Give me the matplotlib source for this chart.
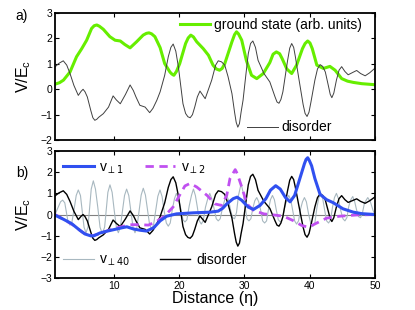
import numpy as np
import matplotlib
matplotlib.use("Agg")
import matplotlib.pyplot as plt

plt.rcParams["font.family"] = ["Liberation Sans", "DejaVu Sans"]
plt.rcParams["mathtext.fontset"] = "dejavusans"

# disorder potential (same in both panels)
dis_x = [1.0, 1.6, 2.27, 2.8, 3.3, 3.9, 4.57, 5.0, 5.3, 5.6, 5.95, 6.5, 6.8,
         7.1, 7.4, 7.7, 8.4, 9.2, 9.9, 10.4, 11.0, 11.8, 12.5, 13.0, 13.4,
         14.0, 14.8, 15.5, 16.0, 16.6, 17.1, 17.8, 18.35, 18.75, 19.1, 19.5,
         19.9, 20.6, 21.0, 21.35, 21.7, 22.05, 22.4, 22.8, 23.2, 24.0, 25.0,
         25.6, 26.0, 26.5, 27.0, 27.5, 28.1, 28.5, 28.75, 29.0, 29.25, 29.5,
         29.8, 30.2, 30.6, 30.95, 31.3, 31.7, 32.1, 33.0, 33.9, 34.7, 35.0,
         35.3, 35.6, 35.9, 36.6, 36.95, 37.25, 37.55, 37.8, 38.3, 39.0, 39.3,
         39.6, 39.9, 40.2, 40.8, 41.2, 41.6, 42.0, 42.4, 42.9, 43.15, 43.4,
         43.7, 44.1, 44.5, 44.9, 45.4, 45.9, 46.5, 47.2, 47.8, 48.5, 49.2, 50.0]
dis_y = [0.88, 1.02, 1.12, 0.95, 0.62, 0.15, -0.24, -0.08, 0.0, -0.1, -0.3,
         -0.85, -1.12, -1.22, -1.18, -1.1, -0.96, -0.7, -0.26, -0.42, -0.57,
         -0.2, 0.17, -0.05, -0.3, -0.63, -0.7, -0.92, -0.75, -0.43, -0.1,
         0.55, 1.28, 1.65, 1.78, 1.5, 0.88, -0.57, -0.95, -1.08, -1.12, -1.0,
         -0.7, -0.3, -0.07, -0.37, 0.36, 0.95, 1.12, 1.08, 0.95, 0.5, -0.17,
         -0.9, -1.3, -1.49, -1.35, -0.9, -0.43, 0.5, 1.4, 1.8, 1.9, 1.65,
         1.14, 0.62, 0.29, -0.3, -0.5, -0.55, -0.4, -0.1, 1.1, 1.62, 1.8, 1.65,
         1.3, 0.49, -0.6, -0.95, -1.07, -0.9, -0.5, 0.36, 0.8, 0.97, 0.9, 0.68,
         0.1, -0.2, -0.33, -0.15, 0.36, 0.75, 0.89, 0.7, 0.57, 0.65, 0.74,
         0.62, 0.53, 0.65, 0.83]

# ground state (arb. units)
gs_x = [1.0, 1.7, 2.3, 3.3, 4.3, 5.1, 5.85, 6.6, 7.0, 7.4, 7.8, 8.4, 9.4,
        10.2, 11.0, 11.7, 12.5, 13.5, 14.5, 15.0, 15.4, 15.8, 16.3, 17.1,
        17.8, 18.6, 18.9, 19.2, 19.6, 20.1, 21.0, 21.4, 21.8, 22.2, 22.7,
        23.7, 24.5, 25.2, 25.7, 26.2, 26.6, 27.0, 28.1, 28.5, 28.8, 29.1,
        29.6, 30.3, 31.1, 31.9, 32.9, 33.9, 34.4, 34.9, 35.4, 35.8, 36.5,
        37.25, 38.0, 38.9, 39.3, 39.7, 40.05, 40.4, 41.1, 42.1, 43.1, 43.9,
        44.9, 45.8, 46.7, 48.0, 50.0]
gs_y = [0.2, 0.26, 0.36, 0.68, 1.28, 1.6, 1.93, 2.39, 2.5, 2.53, 2.48, 2.36,
        2.07, 1.93, 1.9, 1.76, 1.63, 1.87, 2.13, 2.2, 2.22, 2.18, 2.07, 1.64,
        1.01, 0.68, 0.6, 0.55, 0.7, 1.01, 1.8, 2.02, 2.13, 2.06, 1.87, 1.6,
        1.34, 0.95, 0.8, 0.75, 0.82, 1.01, 1.87, 2.15, 2.26, 2.18, 1.93, 1.14,
        0.55, 0.42, 0.62, 1.05, 1.38, 1.47, 1.4, 1.2, 0.8, 0.62, 0.95, 1.6,
        1.8, 1.9, 1.82, 1.6, 0.95, 0.82, 0.9, 0.75, 0.42, 0.32, 0.27, 0.22,
        0.18]

# v_perp1
v1_x = [1.0, 2.27, 3.55, 4.83, 5.6, 6.4, 6.9, 7.9, 8.9, 10.2, 11.2, 12.0, 13.0,
        14.0, 15.0, 16.1, 17.1, 18.1, 19.6, 22.2, 24.7, 26.0, 26.7, 27.3, 28.3,
        28.9, 29.6, 30.6, 31.4, 32.4, 33.3, 34.0, 34.8, 35.5, 36.3, 37.0, 37.7,
        38.5, 39.2, 39.45, 39.7, 39.95, 40.3, 40.8, 41.6, 42.6, 43.6, 45.1,
        46.7, 48.0, 50.0]
v1_y = [-0.03, -0.22, -0.43, -0.75, -0.92, -1.0, -1.01, -0.87, -0.79, -0.7,
        -0.63, -0.58, -0.68, -0.74, -0.78, -0.63, -0.3, -0.08, 0.03, 0.08,
        0.11, 0.16, 0.3, 0.5, 0.75, 0.82, 0.67, 0.35, 0.24, 0.43, 0.75, 1.15,
        1.36, 1.2, 0.8, 0.6, 0.9, 1.7, 2.4, 2.6, 2.68, 2.55, 2.3, 1.7, 0.95,
        0.7, 0.56, 0.27, 0.11, 0.04, 0.0]

# v_perp2
v2_x = [1.0, 2.27, 3.8, 5.3, 6.36, 7.4, 9.2, 10.45, 12.5, 14.0, 15.3, 16.6,
        17.6, 18.1, 19.1, 20.1, 20.9, 21.7, 22.7, 24.3, 25.5, 26.5, 27.3, 27.8,
        28.6, 28.9, 29.6, 30.4, 31.4, 33.0, 34.5, 36.0, 37.5, 38.8, 39.8, 41.1,
        42.6, 44.6, 47.2, 50.0]
v2_y = [0.0, -0.22, -0.5, -0.86, -1.02, -0.95, -0.75, -0.63, -0.48, -0.48,
        -0.5, -0.32, -0.11, 0.03, 0.36, 0.92, 1.35, 1.47, 1.3, 0.9, 0.5, 0.43,
        0.9, 1.7, 2.12, 1.94, 1.3, 0.5, 0.19, 0.03, -0.02, -0.08, -0.29, -0.52,
        -0.6, -0.4, -0.17, -0.08, -0.02, 0.0]

# v_perp40
v40_x = [1.0, 1.5, 1.85, 2.17, 2.5, 2.75, 3.0, 3.3, 3.6, 3.95, 4.25, 4.57,
         4.9, 5.15, 5.45, 5.75, 6.05, 6.3, 6.55, 6.87, 7.2, 7.55, 7.9, 8.25,
         8.6, 8.85, 9.1, 9.42, 9.75, 10.05, 10.4, 10.7, 11.0, 11.35, 11.65,
         11.97, 12.3, 12.6, 12.95, 13.25, 13.55, 13.9, 14.2, 14.52, 14.85,
         15.15, 15.5, 15.8, 16.1, 16.45, 16.75, 17.08, 17.4, 17.7, 18.05,
         18.35, 18.65, 18.95, 19.3, 19.6, 19.9, 20.25, 20.6, 20.9, 21.2, 21.55,
         21.9, 22.2, 22.5, 22.8, 23.1, 23.4, 23.7, 24.05, 24.4, 24.7, 25.0,
         25.35, 25.7, 26.0, 26.3, 26.65, 27.0, 27.3, 27.6, 27.9, 28.2, 28.5,
         28.8, 29.1, 29.5, 29.85, 30.1, 30.4, 30.7, 31.0, 31.3, 31.6, 31.9,
         32.2, 32.5, 32.8, 33.1, 33.4, 33.7, 34.0, 34.3, 34.6, 34.9, 35.2,
         35.5, 35.8, 36.15, 36.5, 36.8, 37.1, 37.4, 37.7, 38.0, 38.3, 38.6,
         38.9, 39.2, 39.5, 39.85, 40.2, 40.5, 40.8, 41.1, 41.4, 41.7, 42.0,
         42.3, 42.6, 42.9, 43.2, 43.5, 43.8, 44.1, 44.4, 44.75, 45.1, 45.4,
         45.7, 46.0, 46.3, 46.6, 46.9, 47.2, 47.5, 47.8, 48.1, 48.4, 48.9,
         49.3, 49.7, 50.0]
v40_y = [0.0, 0.35, 0.6, 0.68, 0.55, 0.1, -0.35, -0.5, -0.35, 0.3, 0.9, 1.16,
         0.9, 0.2, -0.6, -0.86, -0.6, 0.3, 1.2, 1.59, 1.2, 0.35, -0.6, -0.9,
         -0.6, 0.2, 1.05, 1.4, 1.05, 0.25, -0.6, -0.86, -0.6, 0.2, 0.9, 1.2,
         0.9, 0.2, -0.6, -0.86, -0.6, 0.2, 0.92, 1.24, 0.92, 0.25, -0.5, -0.67,
         -0.48, 0.25, 0.86, 1.16, 0.85, 0.2, -0.4, -0.55, -0.4, 0.2, 0.75, 1.0,
         0.75, 0.3, -0.25, -0.35, -0.25, 0.4, 0.9, 1.2, 0.9, 0.35, -0.3, -0.45,
         -0.3, 0.35, 0.75, 1.0, 0.75, 0.3, -0.2, -0.3, -0.2, 0.3, 0.7, 0.9,
         0.65, 0.2, -0.15, -0.2, 0.1, 0.9, 1.45, 1.0, 0.4, -0.2, -0.3, -0.2,
         0.3, 0.65, 0.8, 0.6, 0.2, -0.3, -0.4, -0.3, 0.25, 0.7, 0.9, 0.7, 0.2,
         -0.25, -0.35, -0.25, 0.3, 0.7, 0.9, 0.7, 0.2, -0.3, -0.45, -0.3, 0.25,
         0.6, 0.8, 0.6, 0.0, -0.45, -0.55, -0.4, 0.3, 0.8, 1.0, 0.75, 0.2,
         -0.3, -0.4, -0.25, 0.35, 0.8, 1.0, 0.75, 0.2, -0.2, -0.3, -0.15, 0.4,
         0.7, 0.85, 0.6, 0.2, -0.1, -0.15, 0.1, 0.55, 0.8, 0.6, 0.2, 0.0]

green = "#66ee00"
blue = "#3050f0"
violet = "#c050f0"
lgray = "#a8b8c0"

fig = plt.figure(figsize=(4.15, 3.10), dpi=100)
ax1 = fig.add_axes([0.1325, 0.548, 0.771, 0.41])
ax2 = fig.add_axes([0.1325, 0.103, 0.771, 0.41])

# panel a
h_gs, = ax1.plot(gs_x, gs_y, color=green, lw=2.2)
h_da, = ax1.plot(dis_x, dis_y, color="#404040", lw=0.7)
ax1.set_xlim(1, 50)
ax1.set_ylim(-2, 3)
ax1.set_yticks([-2, -1, 0, 1, 2, 3])
ax1.set_xticks([10, 20, 30, 40, 50])
ax1.set_xticklabels([])
ax1.set_ylabel("V/E$_\\mathregular{c}$", fontsize=11.5, labelpad=5)

leg = ax1.legend([h_gs], ["ground state (arb. units)"], loc="center left",
                 bbox_to_anchor=(0.39, 0.905), frameon=False, fontsize=10,
                 handlelength=2.2, handletextpad=0.3, borderpad=0,
                 borderaxespad=0)
ax1.add_artist(leg)
ax1.legend([h_da], ["disorder"], loc="center left",
           bbox_to_anchor=(0.6, 0.1), frameon=False, fontsize=10,
           handlelength=2.2, handletextpad=0.3, borderpad=0, borderaxespad=0)

# panel b
ax2.axhline(0, color="#808080", lw=0.8)
h40, = ax2.plot(v40_x, v40_y, color=lgray, lw=0.8)
hd, = ax2.plot(dis_x, dis_y, color="black", lw=1.0)
h2, = ax2.plot(v2_x, v2_y, color=violet, lw=2.0, dashes=(3, 2))
h1, = ax2.plot(v1_x, v1_y, color=blue, lw=2.2)
ax2.set_xlim(1, 50)
ax2.set_ylim(-3, 3)
ax2.set_yticks([-3, -2, -1, 0, 1, 2, 3])
ax2.set_xticks([10, 20, 30, 40, 50])
ax2.set_xlabel("Distance (\u03b7)", fontsize=11.5, labelpad=0)
ax2.set_ylabel("V/E$_\\mathregular{c}$", fontsize=11.5, labelpad=5)

legkw = dict(loc="center left", frameon=False, fontsize=10, handlelength=2.2,
             handletextpad=0.4, borderpad=0, borderaxespad=0)
l1 = ax2.legend([h1], ["v$_{\\perp1}$"], bbox_to_anchor=(0.025, 0.866), **legkw)
ax2.add_artist(l1)
l2 = ax2.legend([h2], ["v$_{\\perp2}$"], bbox_to_anchor=(0.28, 0.866), **legkw)
ax2.add_artist(l2)
l3 = ax2.legend([h40], ["v$_{\\perp40}$"], bbox_to_anchor=(0.025, 0.14), **legkw)
ax2.add_artist(l3)
ax2.legend([hd], ["disorder"], bbox_to_anchor=(0.328, 0.14), **legkw)

for ax in (ax1, ax2):
    ax.tick_params(direction="in", top=True, right=True, labelsize=7.5,
                   length=3, width=0.8, pad=2)
    for s in ax.spines.values():
        s.set_linewidth(1.3)

fig.text(0.053, 0.948, "a)", fontsize=10, ha="center", va="center")
fig.text(0.053, 0.442, "b)", fontsize=10, ha="center", va="center")

fig.savefig("out.png", dpi=100)
